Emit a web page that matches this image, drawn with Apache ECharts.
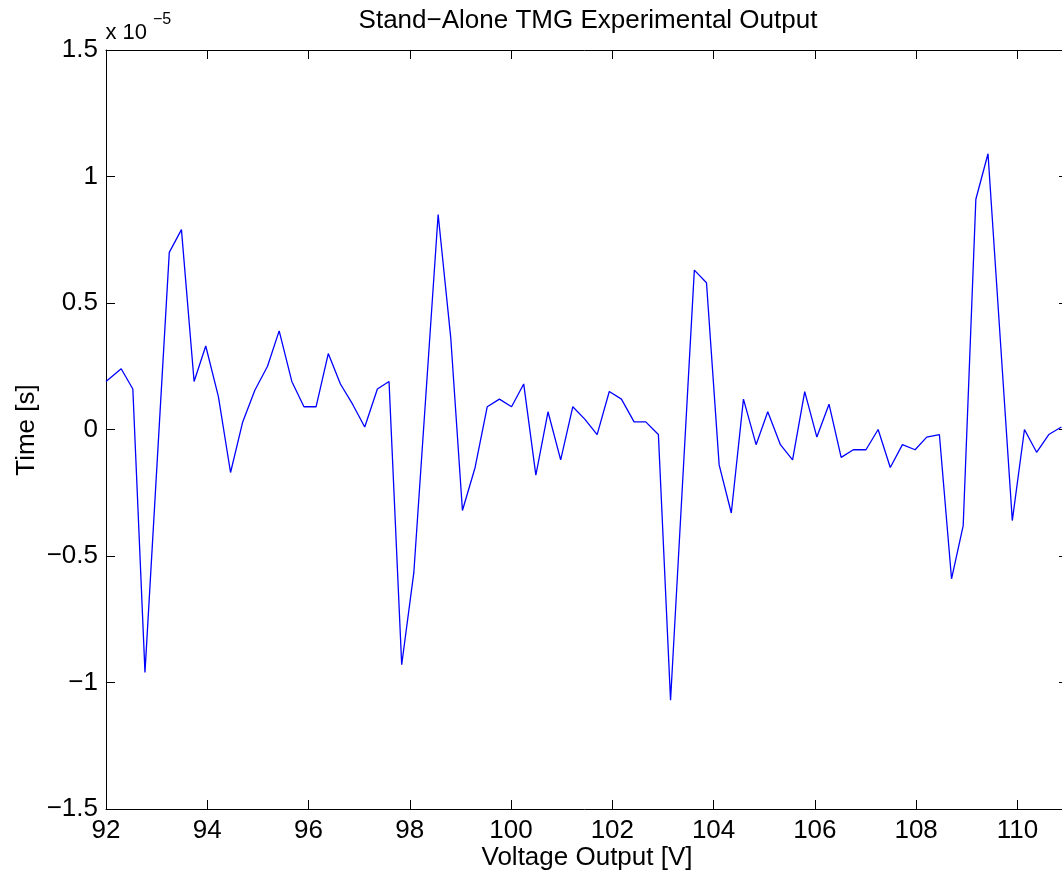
<!DOCTYPE html>
<html>
<head>
<meta charset="utf-8">
<script src="https://cdn.jsdelivr.net/npm/echarts@6/dist/echarts.min.js"></script>
<style>
html,body{margin:0;padding:0;background:#fff;}
#chart{width:1062px;height:877px;}
</style>
</head>
<body>
<div id="chart"></div>
<script>
// Data (time values in units of 1e-5 s)
const voltage = [92.00, 92.30, 92.53, 92.77, 93.25, 93.49, 93.74, 93.97, 94.22, 94.46,
  94.70, 94.94, 95.19, 95.42, 95.67, 95.91, 96.15, 96.39, 96.63, 96.87,
  97.11, 97.36, 97.59, 97.84, 98.08, 98.56, 98.81, 99.04, 99.29, 99.53,
  99.77, 100.01, 100.25, 100.49, 100.73, 100.98, 101.22, 101.46, 101.70, 101.94,
  102.18, 102.43, 102.66, 102.91, 103.15, 103.62, 103.86, 104.11, 104.35, 104.59,
  104.84, 105.07, 105.32, 105.56, 105.80, 106.04, 106.28, 106.52, 106.76, 107.01,
  107.25, 107.49, 107.73, 107.98, 108.21, 108.46, 108.70, 108.93, 109.18, 109.42,
  109.90, 110.14, 110.38, 110.62, 110.87];
const timeE5 = [0.19, 0.24, 0.16, -0.96, 0.70, 0.79, 0.19, 0.33, 0.13, -0.17,
  0.03, 0.155, 0.25, 0.39, 0.19, 0.09, 0.09, 0.30, 0.18, 0.10,
  0.01, 0.16, 0.19, -0.93, -0.565, 0.85, 0.36, -0.32, -0.15, 0.09,
  0.12, 0.09, 0.18, -0.18, 0.07, -0.12, 0.09, 0.04, -0.02, 0.15,
  0.12, 0.03, 0.03, -0.02, -1.07, 0.63, 0.58, -0.14, -0.33, 0.12,
  -0.06, 0.07, -0.06, -0.12, 0.15, -0.03, 0.10, -0.11, -0.08, -0.08,
  0.00, -0.15, -0.06, -0.08, -0.03, -0.02, -0.59, -0.38, 0.91, 1.09,
  -0.36, 0.00, -0.09, -0.02, 0.01];
const xTicks = {min: 92, max: 111, interval: 2};
const yTicks = {min: -1.5, max: 1.5, interval: 0.5};
const titleText = 'Stand\u2212Alone TMG Experimental Output';
const xLabel = 'Voltage Output [V]';
const yLabel = 'Time [s]';
const expBase = 'x 10';
const expPower = '\u22125';

const FONT = '"Liberation Sans", Arial, Helvetica, sans-serif';
const FS = 26;
const fmtMinus = v => String(v).replace('-', '\u2212');

const chart = echarts.init(document.getElementById('chart'));
const axisLine = {show: true, onZero: false, lineStyle: {color: '#000', width: 1}};
const tickIn = {show: true, inside: true, length: 9, lineStyle: {color: '#000', width: 1}};

chart.setOption({
  animation: false,
  backgroundColor: '#fff',
  grid: {left: 106, top: 50, width: 962, height: 759, containLabel: false, outerBoundsMode: 'none'},
  xAxis: [{
    type: 'value', position: 'bottom', min: xTicks.min, max: xTicks.max, interval: xTicks.interval,
    axisLine: axisLine, axisTick: tickIn, splitLine: {show: false},
    axisLabel: {show: true, margin: 9, color: '#000', fontFamily: FONT, fontSize: FS, showMaxLabel: false,
      formatter: fmtMinus}
  }, {
    type: 'value', position: 'top', min: xTicks.min, max: xTicks.max, interval: xTicks.interval,
    axisLine: axisLine, axisTick: tickIn, splitLine: {show: false}, axisLabel: {show: false}
  }],
  yAxis: [{
    type: 'value', position: 'left', min: yTicks.min, max: yTicks.max, interval: yTicks.interval,
    axisLine: axisLine, axisTick: tickIn, splitLine: {show: false},
    axisLabel: {show: true, margin: 8, color: '#000', fontFamily: FONT, fontSize: FS, formatter: fmtMinus}
  }, {
    type: 'value', position: 'right', min: yTicks.min, max: yTicks.max, interval: yTicks.interval,
    axisLine: axisLine, axisTick: tickIn, splitLine: {show: false}, axisLabel: {show: false}
  }],
  series: [{
    type: 'line',
    xAxisIndex: 0, yAxisIndex: 0,
    data: voltage.map((v, i) => [v, timeE5[i]]),
    showSymbol: false, symbol: 'none',
    lineStyle: {color: '#0000ff', width: 1.3},
    clip: true
  }],
  graphic: [
    {type: 'text', style: {text: titleText, x: 588, y: 21, textAlign: 'center', textVerticalAlign: 'middle',
      font: FS + 'px ' + FONT, fill: '#000'}},
    {type: 'text', style: {text: xLabel, x: 587, y: 858, textAlign: 'center', textVerticalAlign: 'middle',
      font: FS + 'px ' + FONT, fill: '#000'}},
    {type: 'text', x: 27, y: 430, rotation: Math.PI / 2,
      style: {text: yLabel, x: 0, y: 0, textAlign: 'center', textVerticalAlign: 'middle',
      font: FS + 'px ' + FONT, fill: '#000'}},
    {type: 'text', style: {text: expBase, x: 105.5, y: 32.5, textAlign: 'left', textVerticalAlign: 'middle',
      font: '22px ' + FONT, fill: '#000'}},
    {type: 'text', style: {text: expPower, x: 153, y: 19.5, textAlign: 'left', textVerticalAlign: 'middle',
      font: '16px ' + FONT, fill: '#000'}}
  ]
});
</script>
</body>
</html>
